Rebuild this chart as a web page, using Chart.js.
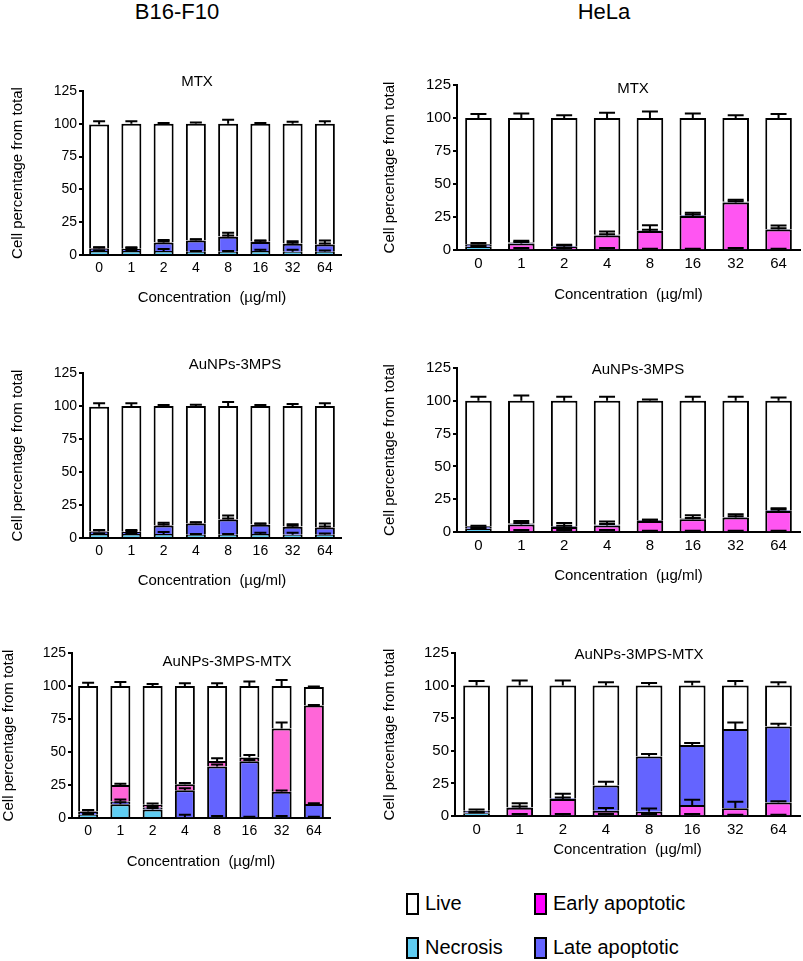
<!DOCTYPE html>
<html>
<head>
<meta charset="utf-8">
<script src="https://cdn.jsdelivr.net/npm/chart.js@4.4.1/dist/chart.umd.min.js"></script>
<style>
  body { margin: 0; background: #fff; font-family: 'Liberation Sans', Arial, sans-serif; }
  #page { position: relative; width: 803px; height: 961px; overflow: hidden; }
  .panel { position: absolute; }
  .lbl { position: absolute; transform: translate(-50%, -50%); white-space: nowrap; color: #000; }
  .head { font-size: 22px; }
  .ptitle { font-size: 15px; }
  .leg { position: absolute; font-size: 20px; white-space: nowrap; }
  .leg i { position: absolute; left: 0; top: 0; width: 9px; height: 18px; border: 2px solid #000; }
  .leg span { position: absolute; left: 19px; top: -1px; }
</style>
</head>
<body>
<div id="page">
  <div class="lbl head" style="left:177px; top:12px;">B16-F10</div>
  <div class="lbl head" style="left:604px; top:12px;">HeLa</div>

  <div class="panel" style="left:0; top:60px;"><canvas id="tl" width="380" height="247"></canvas></div>
  <div class="panel" style="left:381px; top:54px;"><canvas id="tr" width="422" height="250"></canvas></div>
  <div class="panel" style="left:0; top:342px;"><canvas id="ml" width="380" height="248"></canvas></div>
  <div class="panel" style="left:381px; top:337px;"><canvas id="mr" width="422" height="248"></canvas></div>
  <div class="panel" style="left:0; top:622px;"><canvas id="bl" width="380" height="249"></canvas></div>
  <div class="panel" style="left:381px; top:622px;"><canvas id="br" width="422" height="237"></canvas></div>

  <div class="lbl ptitle" style="left:197px; top:80px;">MTX</div>
  <div class="lbl ptitle" style="left:633px; top:87px;">MTX</div>
  <div class="lbl ptitle" style="left:235px; top:363px;">AuNPs-3MPS</div>
  <div class="lbl ptitle" style="left:638px; top:368px;">AuNPs-3MPS</div>
  <div class="lbl ptitle" style="left:227px; top:660px;">AuNPs-3MPS-MTX</div>
  <div class="lbl ptitle" style="left:639px; top:653px;">AuNPs-3MPS-MTX</div>

  <div class="leg" style="left:406px; top:893px;"><i style="background:#fff"></i><span>Live</span></div>
  <div class="leg" style="left:406px; top:937px;"><i style="background:#5fcdf2"></i><span>Necrosis</span></div>
  <div class="leg" style="left:534px; top:893px;"><i style="background:#ff00ff"></i><span>Early apoptotic</span></div>
  <div class="leg" style="left:534px; top:937px;"><i style="background:#6464ff"></i><span>Late apoptotic</span></div>
</div>

<script>
const concentrations = ['0', '1', '2', '4', '8', '16', '32', '64'];

// B16-F10, MTX
const b16MtxNecrosis = [3, 3, 3, 2.5, 2.5, 3, 2.5, 2.5];
const b16MtxLate     = [2, 1.5, 6.5, 8.5, 11.5, 7, 6, 5.5];
const b16MtxEarly    = [0.3, 0.3, 0.3, 0.3, 0.3, 0.3, 0.3, 0.3];
const b16MtxLive     = [94.2, 95.2, 90.2, 88.7, 85.7, 89.7, 91.2, 91.7];
const b16MtxLiveErr  = [2.5, 2, 0.7, 1, 3, 0.7, 1.5, 2];
const b16MtxLateErr  = [1, 1.5, 2, 1, 3, 1, 2, 3];
const b16MtxEarlyErr = [0.5, 0.5, 0.5, 0.5, 0.5, 0.5, 0.5, 0.5];
const b16MtxNecErr   = [0.5, 0.5, 1.5, 0.5, 0.5, 1, 1.5, 1];

// B16-F10, AuNPs-3MPS
const b16NpNecrosis = [3, 3, 3, 2.5, 2.5, 3, 2.5, 2.5];
const b16NpLate     = [2, 1.5, 6.5, 8.5, 11.5, 7, 6, 5.5];
const b16NpEarly    = [0.3, 0.3, 0.3, 0.3, 0.3, 0.3, 0.3, 0.3];
const b16NpLive     = [94.2, 95.2, 90.2, 88.7, 85.7, 89.7, 91.2, 91.7];
const b16NpLiveErr  = [2.5, 2, 0.7, 1, 3, 0.7, 1.5, 2];
const b16NpLateErr  = [1, 1.5, 2, 1, 3, 1, 2, 3];
const b16NpEarlyErr = [0.5, 0.5, 0.5, 0.5, 0.5, 0.5, 0.5, 0.5];
const b16NpNecErr   = [0.5, 0.5, 1.5, 0.5, 0.5, 1, 1.5, 1];

// B16-F10, AuNPs-3MPS-MTX
const b16ConjNecrosis = [2.5, 10.5, 6.5, 0.5, 0.5, 0.5, 0.5, 0.5];
const b16ConjLate     = [2.5, 2, 1.5, 20.5, 38.5, 42.5, 19.3, 10.2];
const b16ConjEarly    = [0.3, 12.5, 2, 4.5, 4.2, 2.8, 48, 74.5];
const b16ConjLive     = [94.7, 75, 90, 74.5, 56.8, 54.2, 32.2, 14];
const b16ConjLiveErr  = [2.5, 3, 1.5, 2, 2, 3.5, 4.5, 0.5];
const b16ConjEarlyErr = [0.5, 1, 1, 1, 2, 2, 4.5, 0.5];
const b16ConjLateErr  = [1, 1.5, 1, 1.5, 1.5, 1, 1, 0.5];
const b16ConjNecErr   = [0.5, 1.5, 1, 2, 1, 0.5, 1, 0.5];

// HeLa, MTX
const helaMtxNecrosis = [2.2, 0.5, 0.5, 0.5, 0.5, 0.5, 0.5, 0.5];
const helaMtxEarly    = [0.3, 4.5, 2, 10.5, 13.8, 25.3, 35.5, 15];
const helaMtxLate     = [1.8, 0.6, 0.5, 0.5, 0.5, 0.5, 0.5, 0.5];
const helaMtxLive     = [95.7, 94.4, 97, 88.5, 85.2, 73.7, 63.5, 84];
const helaMtxLiveErr  = [3, 3.5, 2, 4, 5, 3.5, 2, 3];
const helaMtxEarlyErr = [1, 2, 1.5, 3, 4.5, 2.5, 2, 3];
const helaMtxLateErr  = [1, 0.5, 0.5, 0.5, 0.5, 0.5, 0.5, 0.5];
const helaMtxNecErr   = [0.5, 1, 1, 1, 0.5, 0.5, 1, 0.5];

// HeLa, AuNPs-3MPS
const helaNpNecrosis = [2.2, 0.5, 0.5, 0.5, 0.5, 0.5, 0.5, 0.5];
const helaNpEarly    = [0.3, 5.3, 3.3, 4.5, 7.9, 9.2, 10.5, 15.6];
const helaNpLate     = [1.8, 0.6, 0.5, 0.6, 0.5, 0.5, 0.5, 0.5];
const helaNpLive     = [95.7, 93.6, 95.7, 94.4, 91.1, 89.8, 88.5, 83.4];
const helaNpLiveErr  = [3, 4, 3, 3, 1, 3, 3, 2.5];
const helaNpEarlyErr = [1, 2.5, 3, 3, 1, 3, 2.5, 2];
const helaNpLateErr  = [0.5, 0.5, 0.5, 0.5, 0.5, 0.5, 0.5, 0.5];
const helaNpNecErr   = [0.5, 1, 1, 1, 0.5, 0.5, 0.5, 0.5];

// HeLa, AuNPs-3MPS-MTX
const helaConjNecrosis = [2.2, 0.5, 0.5, 0.5, 0.5, 0.5, 0.5, 0.5];
const helaConjEarly    = [0.3, 5.8, 12.6, 3.6, 2.8, 8, 5.4, 9.8];
const helaConjLate     = [1.5, 0.5, 0.5, 19.2, 42.3, 45.9, 60.8, 58.4];
const helaConjLive     = [96, 93.2, 86.4, 76.7, 54.4, 45.6, 33.3, 31.3];
const helaConjLiveErr  = [3.5, 4, 4, 2.5, 2, 3, 3.5, 2.5];
const helaConjEarlyErr = [0.5, 3.5, 4, 2, 2.5, 4, 5, 1];
const helaConjLateErr  = [1, 0.5, 0.5, 3, 2, 1.5, 5, 2];
const helaConjNecErr   = [0.5, 1, 1, 1, 1, 1, 0.5, 0.5];

const yTicks = [0, 25, 50, 75, 100, 125];

const NECROSIS = '#5fcdf2';
const LATE = '#6464ff';
const EARLY_B16 = '#ff66d8';
const EARLY_HELA = '#ff55f2';
const FONT = "'Liberation Sans', Arial, sans-serif";

// T-shaped error bars on top of each stacked segment
const errorBars = {
  id: 'errorBars',
  afterDatasetsDraw(chart) {
    const { ctx } = chart;
    const y = chart.scales.y;
    ctx.save();
    ctx.strokeStyle = '#000';
    ctx.lineWidth = 2;
    chart.data.datasets.forEach((ds, i) => {
      if (!ds.err) return;
      chart.getDatasetMeta(i).data.forEach((bar, j) => {
        const e = ds.err[j];
        if (!e) return;
        const dy = y.getPixelForValue(0) - y.getPixelForValue(e);
        const top = bar.y - dy;
        const half = bar.width * 0.3;
        ctx.beginPath();
        ctx.moveTo(bar.x, bar.y);
        ctx.lineTo(bar.x, top);
        ctx.moveTo(bar.x - half, top);
        ctx.lineTo(bar.x + half, top);
        ctx.stroke();
      });
    });
    ctx.restore();
  }
};

function seg(label, data, err, color) {
  return {
    label, data, err,
    backgroundColor: color,
    borderColor: '#000',
    borderWidth: 2,
    borderSkipped: 'start',
    categoryPercentage: 0.62,
    barPercentage: 1
  };
}

function makePanel(id, datasets, p) {
  new Chart(document.getElementById(id), {
    type: 'bar',
    data: { labels: concentrations, datasets },
    plugins: [errorBars],
    options: {
      responsive: false,
      animation: false,
      layout: { padding: { top: p.padTop, right: p.padRight, left: 0, bottom: 0 } },
      plugins: { legend: { display: false }, tooltip: { enabled: false } },
      scales: {
        x: {
          stacked: true,
          grid: { display: false, drawTicks: false },
          border: { color: '#000', width: 2 },
          ticks: { color: '#000', font: { family: FONT, size: p.tickSize }, padding: 5 },
          title: {
            display: true, text: 'Concentration  (µg/ml)', color: '#000',
            font: { family: FONT, size: 15 }, padding: { top: 0, bottom: 0 }
          },
          afterFit: s => { s.height = p.xHeight; }
        },
        y: {
          stacked: true,
          min: 0, max: 125,
          afterBuildTicks: s => { s.ticks = yTicks.map(v => ({ value: v })); },
          grid: { display: true, drawOnChartArea: false, drawTicks: true, tickLength: 4, color: '#000', lineWidth: 2 },
          border: { color: '#000', width: 2 },
          ticks: { color: '#000', font: { family: FONT, size: p.tickSize }, padding: 2 },
          title: {
            display: true, text: 'Cell percentage from total', color: '#000',
            font: { family: FONT, size: 15 }, padding: { top: p.yTitlePad, bottom: 0 }
          },
          afterFit: s => { s.width = p.yWidth; }
        }
      }
    }
  });
}

makePanel('tl', [
  seg('Necrosis', b16MtxNecrosis, b16MtxNecErr, NECROSIS),
  seg('Late apoptotic', b16MtxLate, b16MtxLateErr, LATE),
  seg('Early apoptotic', b16MtxEarly, b16MtxEarlyErr, EARLY_B16),
  seg('Live', b16MtxLive, b16MtxLiveErr, '#fff')
], { padTop: 31, padRight: 39, yWidth: 83, xHeight: 52, tickSize: 14, yTitlePad: 9 });

makePanel('ml', [
  seg('Necrosis', b16NpNecrosis, b16NpNecErr, NECROSIS),
  seg('Late apoptotic', b16NpLate, b16NpLateErr, LATE),
  seg('Early apoptotic', b16NpEarly, b16NpEarlyErr, EARLY_B16),
  seg('Live', b16NpLive, b16NpLiveErr, '#fff')
], { padTop: 31, padRight: 39, yWidth: 83, xHeight: 52, tickSize: 14, yTitlePad: 9 });

makePanel('bl', [
  seg('Necrosis', b16ConjNecrosis, b16ConjNecErr, NECROSIS),
  seg('Late apoptotic', b16ConjLate, b16ConjLateErr, LATE),
  seg('Early apoptotic', b16ConjEarly, b16ConjEarlyErr, EARLY_B16),
  seg('Live', b16ConjLive, b16ConjLiveErr, '#fff')
], { padTop: 31, padRight: 50, yWidth: 72, xHeight: 53, tickSize: 14, yTitlePad: 0 });

makePanel('tr', [
  seg('Necrosis', helaMtxNecrosis, helaMtxNecErr, NECROSIS),
  seg('Early apoptotic', helaMtxEarly, helaMtxEarlyErr, EARLY_HELA),
  seg('Late apoptotic', helaMtxLate, helaMtxLateErr, LATE),
  seg('Live', helaMtxLive, helaMtxLiveErr, '#fff')
], { padTop: 31, padRight: 3, yWidth: 76, xHeight: 54, tickSize: 15, yTitlePad: 0 });

makePanel('mr', [
  seg('Necrosis', helaNpNecrosis, helaNpNecErr, NECROSIS),
  seg('Early apoptotic', helaNpEarly, helaNpEarlyErr, EARLY_HELA),
  seg('Late apoptotic', helaNpLate, helaNpLateErr, LATE),
  seg('Live', helaNpLive, helaNpLiveErr, '#fff')
], { padTop: 31, padRight: 3, yWidth: 76, xHeight: 53, tickSize: 15, yTitlePad: 0 });

makePanel('br', [
  seg('Necrosis', helaConjNecrosis, helaConjNecErr, NECROSIS),
  seg('Early apoptotic', helaConjEarly, helaConjEarlyErr, EARLY_HELA),
  seg('Late apoptotic', helaConjLate, helaConjLateErr, LATE),
  seg('Live', helaConjLive, helaConjLiveErr, '#fff')
], { padTop: 31, padRight: 3, yWidth: 74, xHeight: 43, tickSize: 15, yTitlePad: 0 });
</script>
</body>
</html>
